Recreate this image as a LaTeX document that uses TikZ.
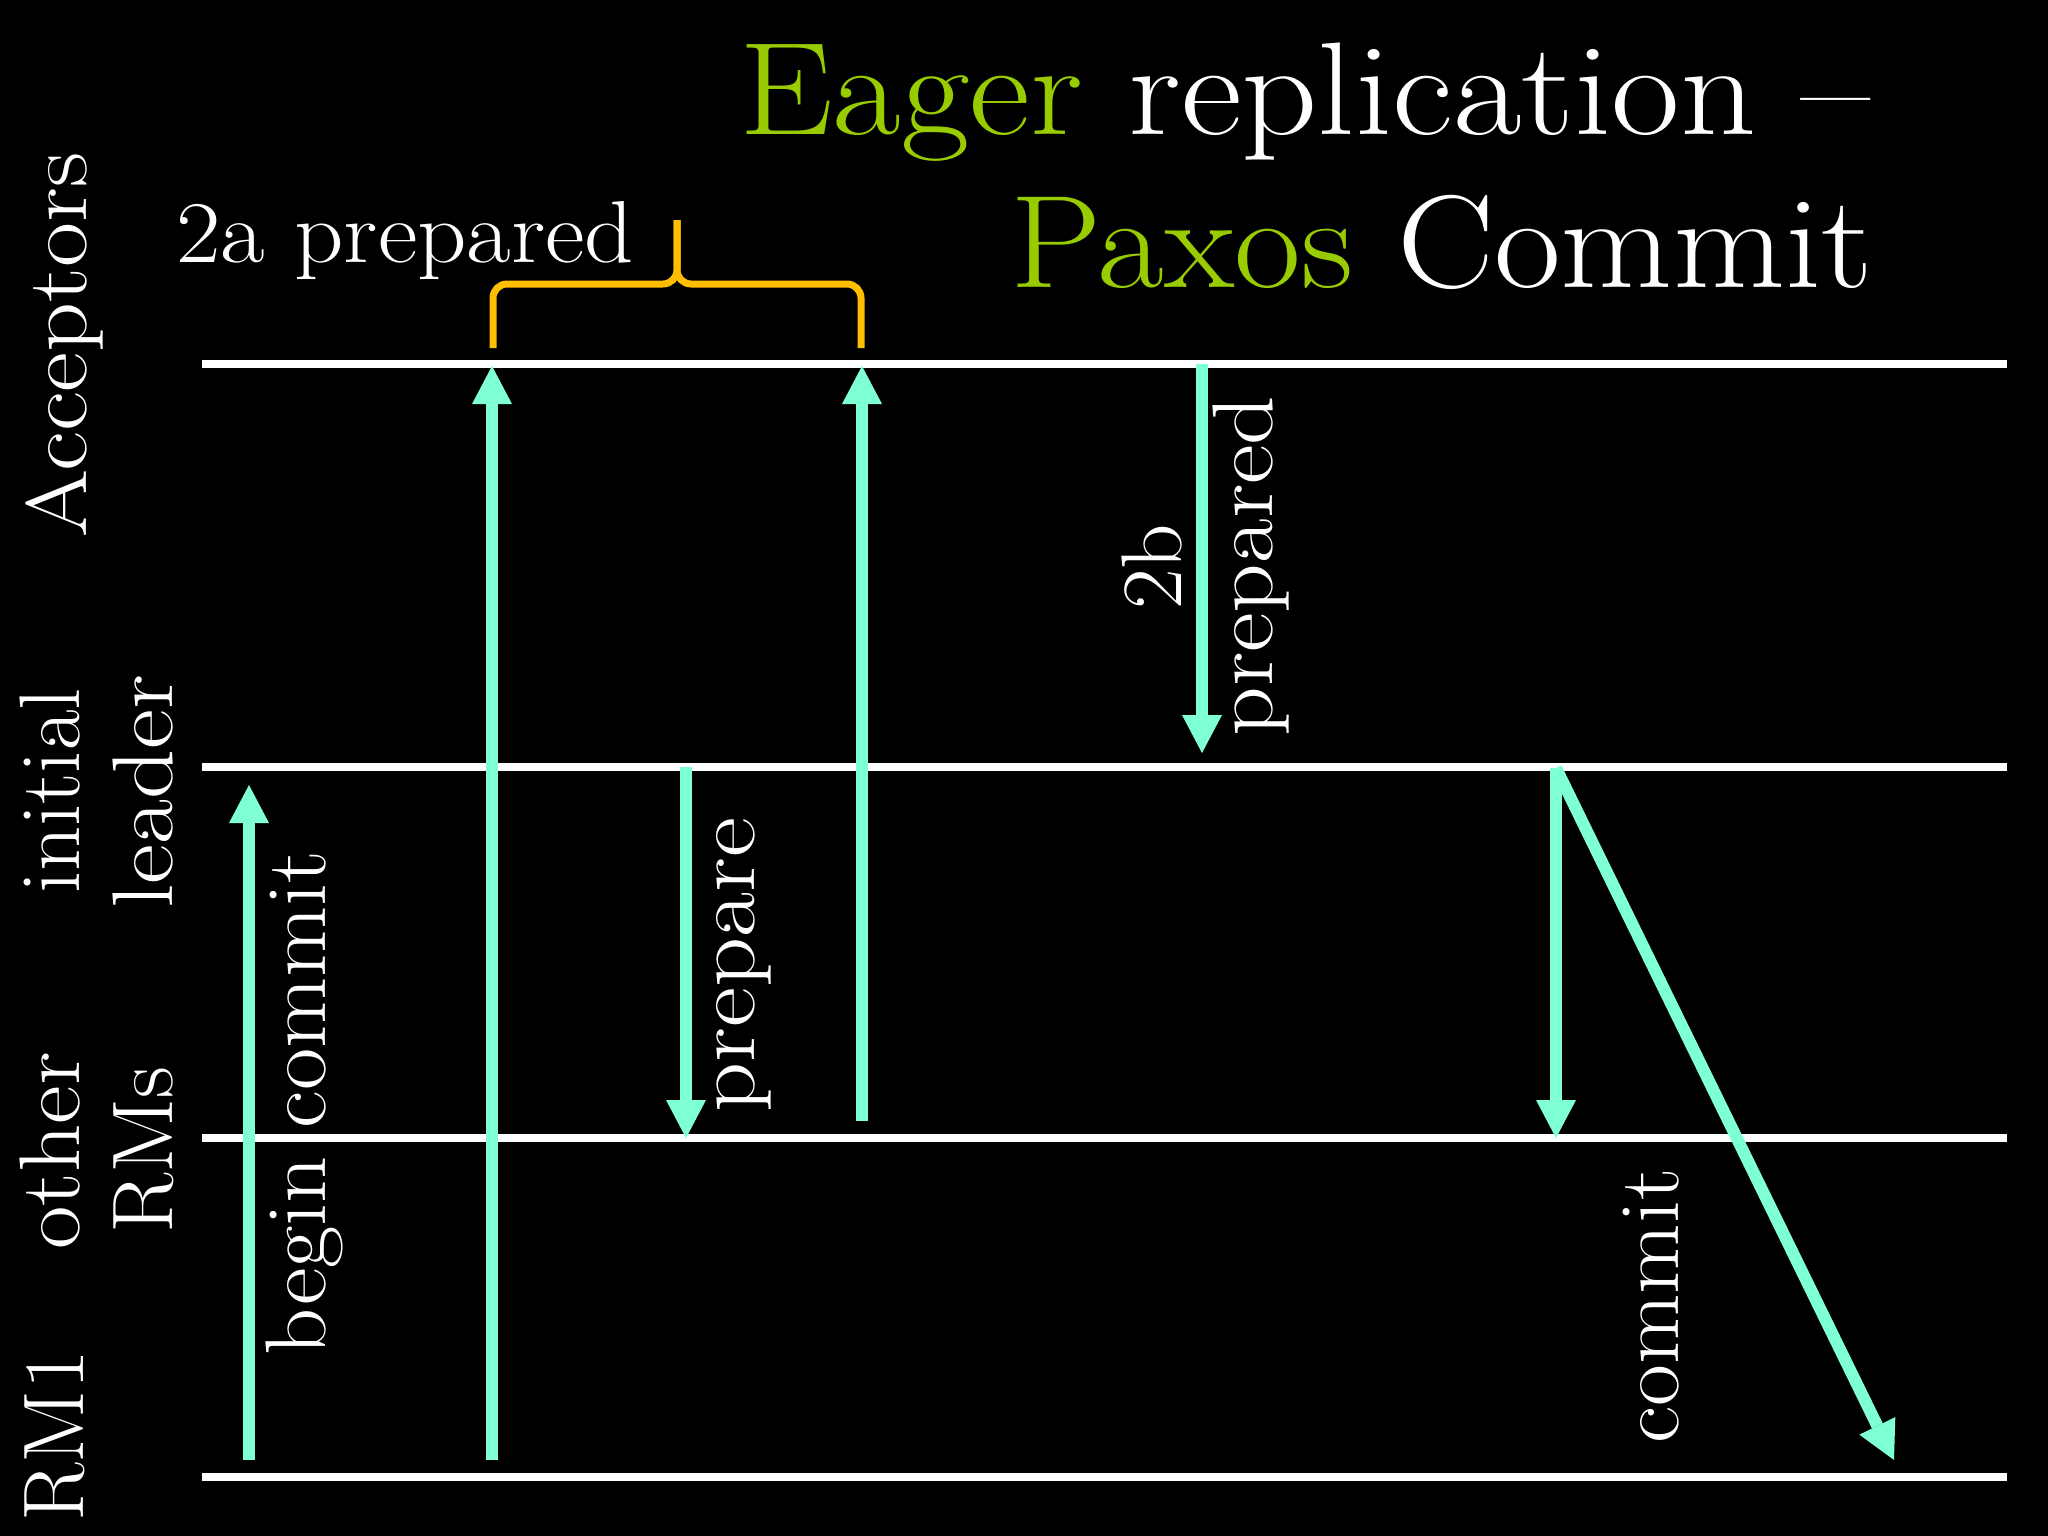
\documentclass[tikz,border=0pt]{standalone}
\usetikzlibrary{arrows.meta}
\definecolor{arrowcol}{RGB}{127,255,212}
\definecolor{titlegreen}{RGB}{153,204,0}
\definecolor{bracecol}{RGB}{255,190,0}
\newcommand\lblfnt{\fontsize{86}{100}\selectfont}
\newcommand\ttlfnt{\fontsize{132}{150}\selectfont}
\newcommand\wid[2]{\scalebox{#1}[1]{#2}}
\begin{document}
\begin{tikzpicture}[x=1pt,y=-1pt,
  lane/.style={draw=white,line width=8pt},
  msg/.style={draw=arrowcol,line width=12pt,-{Triangle[width=40pt,length=38pt,line width=0pt]}},
  lbl/.style={text=white,font=\lblfnt,inner sep=0pt,anchor=base,rotate=90},
  ttl/.style={text=white,font=\ttlfnt,inner sep=0pt,anchor=base east},
  bracestyle/.style={draw=bracecol,line width=7pt,rounded corners=14pt}
  ]
\fill[black] (0,0) rectangle (2048,1536);
\useasboundingbox (0,0) rectangle (2048,1536);

% title
\node[ttl] (t1) at (1870,135) {\wid{1.13}{\textcolor{titlegreen}{Eager} replication --}};
\node[ttl] (t2) at (1873,287) {\wid{1.10}{\textcolor{titlegreen}{Paxos} Commit}};

% lanes
\coordinate (L1w) at (202,364);  \coordinate (L1e) at (2007,364);
\coordinate (L2w) at (202,767);  \coordinate (L2e) at (2007,767);
\coordinate (L3w) at (202,1138); \coordinate (L3e) at (2007,1138);
\coordinate (L4w) at (202,1477); \coordinate (L4e) at (2007,1477);
\draw[lane] (L1w) -- (L1e);
\draw[lane] (L2w) -- (L2e);
\draw[lane] (L3w) -- (L3e);
\draw[lane] (L4w) -- (L4e);

% lane labels
\node[lbl] (acc) at (86,345) {\wid{1.14}{Acceptors}};
\node[lbl] (ini1) at (79,791) {\wid{1.03}{initial}};
\node[lbl] (ini2) at (172,792) {\wid{1.14}{leader}};
\node[lbl] (oth1) at (79,1151) {\wid{1.10}{other}};
\node[lbl] (oth2) at (172,1150) {\wid{1.03}{RMs}};
\node[lbl] (rm1) at (83,1436) {RM1};

% messages
\coordinate (bc0) at (249,1460); \coordinate (bc1) at (249,785);
\draw[msg] (bc0) -- (bc1);
\coordinate (pa0) at (492,1460); \coordinate (pa1) at (492,366);
\draw[msg] (pa0) -- (pa1);
\coordinate (pr0) at (686,767); \coordinate (pr1) at (686,1138);
\draw[msg] (pr0) -- (pr1);
\coordinate (pb0) at (862,1121); \coordinate (pb1) at (862,366);
\draw[msg] (pb0) -- (pb1);
\coordinate (tb0) at (1202,364); \coordinate (tb1) at (1202,753);
\draw[msg] (tb0) -- (tb1);
\coordinate (cm0) at (1556,768); \coordinate (cm1) at (1556,1138);
\coordinate (cm2) at (1894,1460);
\draw[msg] (cm0) -- (cm1);
\draw[msg] (cm0) -- (cm2);

% message labels
\node[lbl] (beginc) at (325,1103) {\wid{1.07}{begin commit}};
\node[lbl] (prep) at (754,965) {\wid{1.14}{prepare}};
\node[lbl] (twob) at (1181,567) {\wid{1.03}{2b}};
\node[lbl] (twobp) at (1272,566) {\wid{1.13}{prepared}};
\node[lbl] (comm) at (1678,1306) {\wid{1.06}{commit}};

% 2a prepared + brace
\node[text=white,font=\fontsize{88}{100}\selectfont,inner sep=0pt,anchor=base west] (twoa) at (176,262) {\wid{1.10}{2a prepared}};
\coordinate (brl) at (493,348); \coordinate (brr) at (861,348);
\coordinate (brm) at (677,284); \coordinate (brt) at (677,220);
\draw[bracestyle] (brl) -- (brl |- brm) -- (brm) -- (brt);
\draw[bracestyle] (brr) -- (brr |- brm) -- (brm) -- (brt);
\end{tikzpicture}
\end{document}
